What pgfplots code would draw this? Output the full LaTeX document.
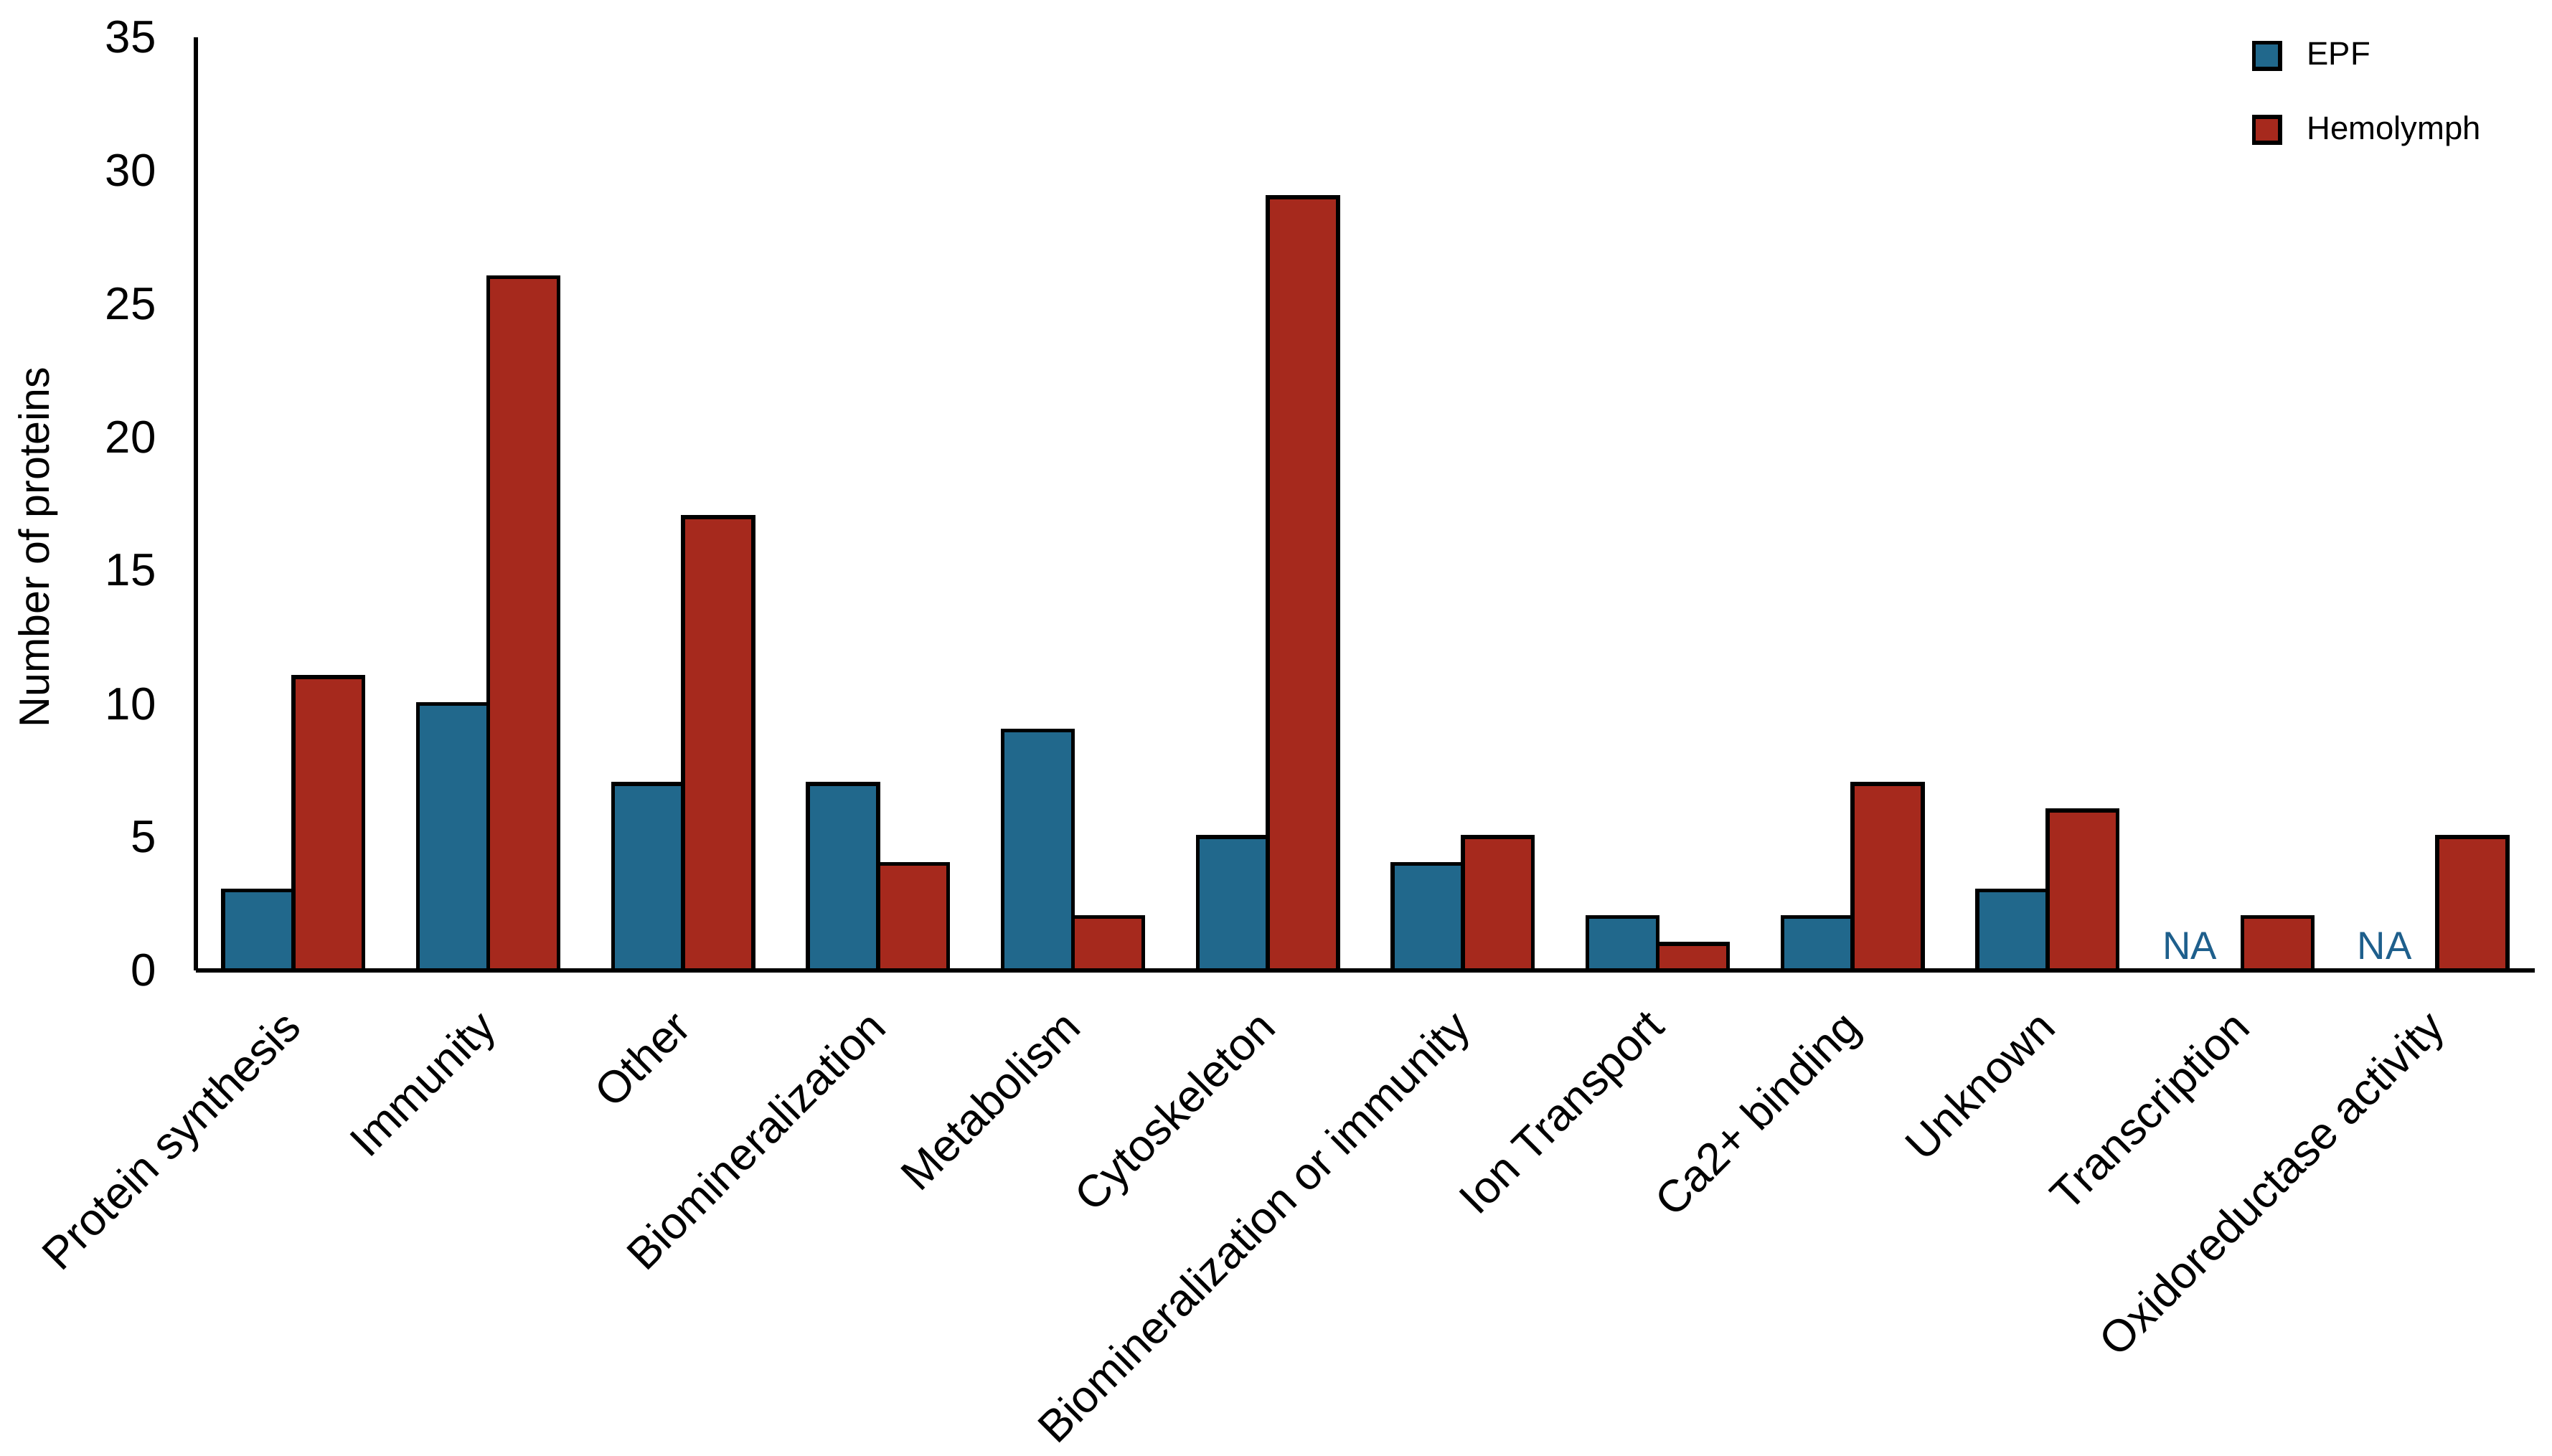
\documentclass[border=0pt]{standalone}
\usepackage{fontspec}
\setmainfont{Liberation Sans}
\usepackage{pgfplots}
\pgfplotsset{compat=1.18}
\definecolor{epf}{RGB}{33,104,140}
\definecolor{hemo}{RGB}{166,41,29}
\definecolor{natext}{RGB}{30,95,140}
\begin{document}
\begin{tikzpicture}
\path[use as bounding box] (-60.06pt,-148.94pt) rectangle (722.48pt,297.66pt);
\begin{axis}[
  at={(0pt,0pt)}, anchor=south west,
  scale only axis, width=717.2pt, height=286.22pt,
  xmin=-0.5, xmax=11.5, ymin=0, ymax=35,
  axis lines*=left,
  axis line style={line width=1.2pt, black, -},
  major tick length=0pt,
  xtick={0,...,11},
  xticklabels={Protein synthesis, Immunity, Other, Biomineralization, Metabolism, Cytoskeleton, Biomineralization or immunity, Ion Transport, Ca2+ binding, Unknown, Transcription, Oxidoreductase activity},
  ytick={0,5,...,35},
  /pgf/number format/assume math mode=true,
  yticklabel style={font=\fontsize{14}{16}\selectfont, anchor=east, inner sep=0pt, xshift=-12pt},
  xticklabel style={font=\fontsize{13.8}{16}\selectfont, anchor=north east, inner sep=0pt, xshift=-4pt, yshift=-11pt, rotate=45},
  ylabel={Number of proteins},
  every axis y label/.style={at={(axis description cs:0,0.4535)}, xshift=-48.3pt, anchor=center, rotate=90, font=\fontsize{13}{15}\selectfont},
  bar width=0.36,
  legend style={draw=none, fill=none, at={(0.8788,0.9969)}, anchor=north west, inner sep=0pt, row sep=13.5pt, column sep=7.7pt, font=\fontsize{10}{12}\selectfont, nodes={inner sep=0pt}},
  legend cell align=left,
  legend image code/.code={\draw[#1, line width=1.2pt] (0.6pt,-4pt) rectangle (8.6pt,4pt);},
]
\addplot[ybar, bar shift=-0.18, fill=epf, draw=black, line width=1.2pt] coordinates {(0,3) (1,10) (2,7) (3,7) (4,9) (5,5) (6,4) (7,2) (8,2) (9,3)};
\addlegendentry{EPF}
\addplot[ybar, bar shift=0.18, fill=hemo, draw=black, line width=1.2pt] coordinates {(0,11) (1,26) (2,17) (3,4) (4,2) (5,29) (6,5) (7,1) (8,7) (9,6) (10,2) (11,5)};
\addlegendentry{Hemolymph}
\node[font=\fontsize{12}{14}\selectfont, text=natext, anchor=base, yshift=3.3pt] at (axis cs:9.73,0) {NA};
\node[font=\fontsize{12}{14}\selectfont, text=natext, anchor=base, yshift=3.3pt] at (axis cs:10.73,0) {NA};
\end{axis}
\end{tikzpicture}
\end{document}
